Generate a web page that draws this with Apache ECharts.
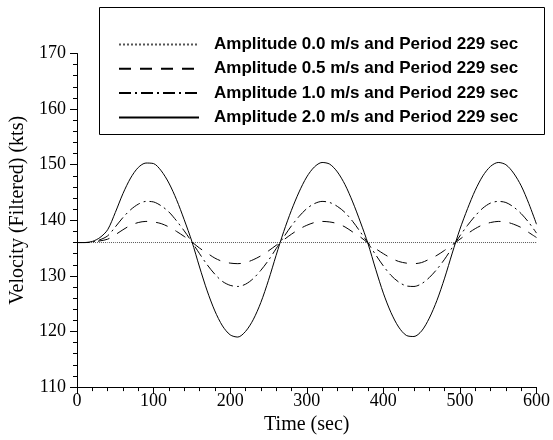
<!DOCTYPE html>
<html><head><meta charset="utf-8">
<script src="https://cdn.jsdelivr.net/npm/echarts@6/dist/echarts.min.js"></script>
<style>html,body{margin:0;padding:0;background:#fff}#c{width:553px;height:440px}</style>
</head><body><div id="c"></div>
<script>
var time = [0,10,20,30,40,50,60,70,80,90,100,110,120,130,140,150,160,170,180,190,200,210,220,230,240,250,260,270,280,290,300,310,320,330,340,350,360,370,380,390,400,410,420,430,440,450,460,470,480,490,500,510,520,530,540,550,560,570,580,590,600];
var amp00 = [136,136,136,136,136,136,136,136,136,136,136,136,136,136,136,136,136,136,136,136,136,136,136,136,136,136,136,136,136,136,136,136,136,136,136,136,136,136,136,136,136,136,136,136,136,136,136,136,136,136,136,136,136,136,136,136,136,136,136,136,136];
var amp05 = [136,136,136.05,136.3,136.6,137.4,138.3,139.1,139.6,139.8,139.7,139.4,138.8,138.0,137.1,136.1,135.0,134.1,133.2,132.6,132.3,132.2,132.4,132.9,133.6,134.5,135.5,136.5,137.5,138.4,139.1,139.6,139.8,139.7,139.4,138.8,137.9,137.0,135.9,134.9,134.0,133.2,132.6,132.3,132.2,132.4,133.0,133.7,134.6,135.6,136.6,137.6,138.5,139.2,139.6,139.8,139.7,139.3,138.7,137.8,136.9];
var amp10 = [136,136,136.1,136.5,137.2,138.8,140.5,141.9,142.9,143.4,143.3,142.6,141.5,139.9,138.1,136.1,134.0,132.0,130.3,129.0,128.3,128.1,128.5,129.5,131.0,132.8,134.9,137.0,139.0,140.7,142.1,143.0,143.4,143.2,142.5,141.4,139.8,137.9,135.9,133.8,131.8,130.1,128.9,128.2,128.1,128.6,129.7,131.2,133.0,135.1,137.2,139.1,140.8,142.2,143.1,143.4,143.2,142.4,141.2,139.6,137.7];
var amp20 = [136,136,136.2,136.9,138.3,141.4,144.8,147.6,149.5,150.3,150.2,148.9,146.7,143.7,140.1,136.2,131.6,127.3,123.7,121.0,119.4,119.0,120.0,122.1,125.2,129.2,133.7,138.0,141.8,145.1,147.8,149.6,150.4,150.1,148.7,146.4,143.3,139.7,135.8,131.2,126.9,123.4,120.8,119.3,119.1,120.1,122.4,125.6,129.6,134.1,138.4,142.1,145.4,148.0,149.7,150.4,150.0,148.5,146.2,143.0,139.3];
var names = ['Amplitude 0.0 m/s and Period 229 sec','Amplitude 0.5 m/s and Period 229 sec','Amplitude 1.0 m/s and Period 229 sec','Amplitude 2.0 m/s and Period 229 sec'];
var xTitle = 'Time (sec)';
var yTitle = 'Velocity (Filtered) (kts)';

function pairs(v){ return time.map(function(t,i){ return [t, v[i]]; }); }
var serif = '"Liberation Serif","Times New Roman",serif';
var sans = '"Liberation Sans",Arial,sans-serif';
var styles = [
  {type:'dotted', width:1, color:'#555'},
  {type:[12,9], width:1, color:'#000'},
  {type:[12,4,2,4], width:1, color:'#000'},
  {type:'solid', width:1, color:'#000'}
];
var allData = [amp00, amp05, amp10, amp20];
var chart = echarts.init(document.getElementById('c'), null, {renderer:'canvas'});
chart.setOption({
  animation:false,
  backgroundColor:'#fff',
  grid:{left:77, right:15, top:53.5, bottom:48, containLabel:false},
  graphic:[{type:'rect', left:99, top:7, shape:{width:445, height:127}, style:{fill:'#fff', stroke:'#000', lineWidth:1}, z:0}],
  legend:{
    left:118, top:36, padding:0, orient:'vertical', itemWidth:80, itemHeight:14, itemGap:7.3,
    data:names,
    itemStyle:{opacity:0},
    textStyle:{fontFamily:sans, fontWeight:'bold', fontSize:17, lineHeight:14, color:'#000', padding:[0,0,0,10]},
    z:5
  },
  xAxis:{
    type:'value', min:0, max:600, interval:100,
    name:xTitle, nameLocation:'middle', nameGap:18,
    nameTextStyle:{fontFamily:serif, fontSize:20, color:'#000'},
    axisLine:{show:true, onZero:false, lineStyle:{color:'#000', width:1}},
    axisTick:{show:true, inside:false, length:7, lineStyle:{color:'#000'}},
    minorTick:{show:true, splitNumber:5, length:4, lineStyle:{color:'#000'}},
    axisLabel:{fontFamily:serif, fontSize:18, color:'#000', margin:5},
    splitLine:{show:false}
  },
  yAxis:{
    type:'value', min:110, max:170, interval:10,
    name:yTitle, nameLocation:'middle', nameGap:47,
    nameTextStyle:{fontFamily:serif, fontSize:20, color:'#000', padding:[0,0,0,20]},
    axisLine:{show:true, onZero:false, lineStyle:{color:'#000', width:1}},
    axisTick:{show:true, inside:false, length:7, lineStyle:{color:'#000'}},
    minorTick:{show:true, splitNumber:5, length:4, lineStyle:{color:'#000'}},
    axisLabel:{fontFamily:serif, fontSize:18, color:'#000', margin:11},
    splitLine:{show:false}
  },
  series: names.map(function(n,i){
    return {name:n, type:'line', data:pairs(allData[i]), showSymbol:false, symbol:'none',
      smooth:0.3, lineStyle:styles[i], itemStyle:{color:styles[i].color}, z:2};
  })
});
</script></body></html>
